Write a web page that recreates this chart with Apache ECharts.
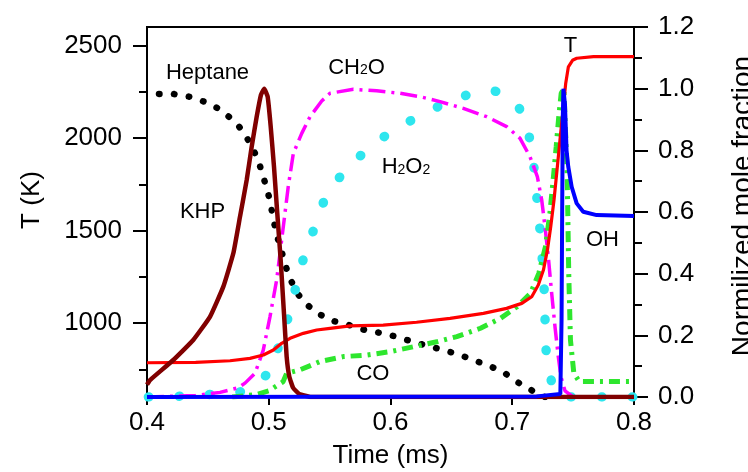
<!DOCTYPE html>
<html>
<head>
<meta charset="utf-8">
<script src="https://cdn.jsdelivr.net/npm/echarts@6/dist/echarts.min.js"></script>
<style>
html,body{margin:0;padding:0;background:#ffffff;}
#chart{width:748px;height:472px;}
</style>
</head>
<body>
<div id="chart"></div>
<script>
// ---- data (time in ms) ----
const xTicks = [0.4, 0.5, 0.6, 0.7, 0.8];
const tMajorTicks = [1000, 1500, 2000, 2500];
const tMinorTicks = [750, 1250, 1750, 2250];

const heptaneTime = [0.4, 0.4099, 0.4214, 0.4361, 0.449, 0.4595, 0.4682, 0.4753, 0.4819, 0.4879, 0.4928, 0.4969, 0.5005, 0.5032, 0.506, 0.5101, 0.5133, 0.5175, 0.5234, 0.5317, 0.5429, 0.5525, 0.5662, 0.5793, 0.5928, 0.6045, 0.616, 0.631, 0.6439, 0.6565, 0.6694, 0.6839, 0.694, 0.7039, 0.7142, 0.72, 0.727];
const heptaneFrac = [0.985, 0.983, 0.983, 0.973, 0.955, 0.934, 0.906, 0.879, 0.842, 0.798, 0.749, 0.696, 0.645, 0.59, 0.533, 0.479, 0.431, 0.384, 0.336, 0.298, 0.266, 0.247, 0.233, 0.217, 0.207, 0.196, 0.182, 0.165, 0.152, 0.137, 0.118, 0.096, 0.077, 0.049, 0.026, 0.012, 0];

const khpTime = [0.4, 0.4025, 0.4216, 0.438, 0.4517, 0.4627, 0.4709, 0.4764, 0.4819, 0.486, 0.4901, 0.4936, 0.4963, 0.4991, 0.5016, 0.5043, 0.507, 0.5098, 0.5125, 0.5147, 0.5169, 0.52, 0.525, 0.535, 0.8];
const khpFrac = [0.04, 0.055, 0.12, 0.185, 0.26, 0.358, 0.466, 0.585, 0.704, 0.812, 0.909, 0.98, 1.0, 0.974, 0.877, 0.747, 0.596, 0.444, 0.271, 0.131, 0.066, 0.03, 0.01, 0, 0];

const ch2oTime = [0.4, 0.44, 0.46, 0.475, 0.4805, 0.4887, 0.4955, 0.501, 0.5065, 0.5106, 0.516, 0.5202, 0.5271, 0.5339, 0.5435, 0.5503, 0.5695, 0.5887, 0.6078, 0.6242, 0.6407, 0.6598, 0.679, 0.6954, 0.7064, 0.7146, 0.7206, 0.7242, 0.7269, 0.7296, 0.7324, 0.7351, 0.7378, 0.74, 0.7433, 0.75, 0.8];
const ch2oFrac = [0, 0.005, 0.015, 0.03, 0.045, 0.077, 0.152, 0.26, 0.38, 0.509, 0.682, 0.79, 0.855, 0.909, 0.96, 0.985, 0.998, 0.993, 0.985, 0.974, 0.958, 0.936, 0.909, 0.877, 0.839, 0.779, 0.715, 0.639, 0.552, 0.455, 0.336, 0.228, 0.131, 0.066, 0.02, 0, 0];

const h2o2Time = [0.4, 0.428, 0.457, 0.48, 0.5005, 0.5092, 0.5175, 0.523, 0.5298, 0.5386, 0.5484, 0.5681, 0.5881, 0.6086, 0.6305, 0.6529, 0.6817, 0.7028, 0.7124, 0.7173, 0.7195, 0.7212, 0.7239, 0.7261, 0.7269, 0.7283, 0.7339, 0.74, 0.8];
const h2o2Frac = [0, 0.003, 0.01, 0.02, 0.082, 0.179, 0.277, 0.369, 0.466, 0.56, 0.663, 0.756, 0.826, 0.879, 0.925, 0.967, 0.996, 0.955, 0.872, 0.763, 0.671, 0.612, 0.488, 0.358, 0.255, 0.126, 0.028, 0, 0];

const coTime = [0.47, 0.49, 0.5, 0.5117, 0.5147, 0.5257, 0.5421, 0.5612, 0.5805, 0.5997, 0.6189, 0.6381, 0.6545, 0.6739, 0.6903, 0.704, 0.715, 0.7218, 0.7273, 0.7309, 0.7336, 0.7361, 0.7382, 0.7402, 0.7424, 0.7451, 0.7464, 0.7478, 0.7506, 0.755, 0.8];
const coFrac = [0, 0.008, 0.02, 0.049, 0.077, 0.088, 0.115, 0.131, 0.136, 0.147, 0.163, 0.179, 0.196, 0.223, 0.255, 0.293, 0.336, 0.401, 0.488, 0.596, 0.704, 0.812, 0.909, 0.985, 1.0, 0.725, 0.401, 0.185, 0.077, 0.05, 0.05];

const tempTime = [0.4, 0.44, 0.4682, 0.4846, 0.4956, 0.5038, 0.5106, 0.5175, 0.5284, 0.5394, 0.5503, 0.5667, 0.594, 0.6214, 0.6489, 0.6763, 0.6954, 0.7078, 0.716, 0.7214, 0.7256, 0.7289, 0.7316, 0.7343, 0.7365, 0.7392, 0.742, 0.7439, 0.7461, 0.7495, 0.753, 0.7667, 0.8];
const tempK = [785, 787, 796, 809, 827, 854, 890, 917, 944, 962, 971, 984, 989, 1004, 1025, 1052, 1079, 1106, 1142, 1205, 1286, 1395, 1520, 1665, 1809, 1989, 2169, 2295, 2385, 2420, 2431, 2440, 2440];

const ohTime = [0.4, 0.72, 0.7395, 0.7405, 0.741, 0.7415, 0.742, 0.7433, 0.7446, 0.746, 0.7488, 0.7529, 0.7583, 0.7693, 0.8];
const ohFrac = [0, 0.002, 0.01, 0.25, 0.6, 0.9, 1.0, 0.95, 0.8, 0.747, 0.682, 0.628, 0.601, 0.59, 0.587];

// in-plot annotation labels (data coordinates on time / fraction axes)
const labelNames = ['Heptane', 'KHP', 'CH2O', 'H2O2', 'CO', 'T', 'OH'];
const labelTime = [0.4497, 0.4456, 0.5721, 0.6127, 0.5856, 0.7478, 0.7741];
const labelFrac = [1.054, 0.603, 1.072, 0.749, 0.078, 1.142, 0.514];

// ---- build ----
function zip(a, b) { return a.map((v, i) => [v, b[i]]); }
const FONT = '"Liberation Sans", Arial, sans-serif';
const richText = {
  'CH2O': '{n|CH}{s|2}{n|O}',
  'H2O2': '{n|H}{s|2}{n|O}{s|2}'
};

const chart = echarts.init(document.getElementById('chart'), null, { renderer: 'canvas' });

const axisLineStyle = { color: '#000', width: 2 };

const option = {
  animation: false,
  backgroundColor: '#ffffff',
  textStyle: { fontFamily: FONT },
  grid: {
    left: 147, right: 114, top: 27, bottom: 75,
    show: true, borderColor: '#000', borderWidth: 2, backgroundColor: 'transparent',
    containLabel: false, outerBoundsMode: 'none'
  },
  xAxis: [{
    type: 'value', min: 0.4, max: 0.8, interval: 0.1,
    name: 'Time (ms)', nameLocation: 'middle', nameGap: 46,
    nameTextStyle: { fontSize: 26, color: '#000', fontFamily: FONT },
    axisLine: { show: true, onZero: false, lineStyle: axisLineStyle },
    axisTick: { show: true, length: 8, inside: false, lineStyle: axisLineStyle },
    axisLabel: { show: true, fontSize: 26, color: '#000', margin: 13, fontFamily: FONT,
      showMinLabel: true, showMaxLabel: true, hideOverlap: false,
      formatter: v => v.toFixed(1) },
    splitLine: { show: false }
  }],
  yAxis: [{
    type: 'value', position: 'left', min: 600, max: 2600,
    name: 'T (K)', nameLocation: 'middle', nameGap: 102,
    nameTextStyle: { fontSize: 26, color: '#000', fontFamily: FONT, padding: [0, 0, 0, 24] },
    axisLine: { show: true, onZero: false, lineStyle: axisLineStyle },
    axisTick: { show: true, length: 14, inside: false, customValues: tMajorTicks, lineStyle: axisLineStyle },
    axisLabel: { show: true, fontSize: 26, color: '#000', margin: 25, fontFamily: FONT,
      customValues: tMajorTicks, hideOverlap: false, formatter: v => String(v) },
    splitLine: { show: false }
  }, {
    type: 'value', position: 'left', min: 600, max: 2600,
    axisLine: { show: false },
    axisTick: { show: true, length: 8, inside: false, customValues: tMinorTicks, lineStyle: axisLineStyle },
    axisLabel: { show: false },
    splitLine: { show: false }
  }, {
    type: 'value', position: 'right', min: 0, max: 1.2, interval: 0.2,
    name: 'Normilized mole fraction', nameLocation: 'middle', nameGap: 95,
    nameTextStyle: { fontSize: 28, color: '#000', fontFamily: FONT, padding: [0, 0, 0, 12] },
    axisLine: { show: true, onZero: false, lineStyle: axisLineStyle },
    axisTick: { show: true, length: 14, inside: false, lineStyle: axisLineStyle },
    minorTick: { show: true, splitNumber: 2, length: 8, lineStyle: axisLineStyle },
    axisLabel: { show: true, fontSize: 26, color: '#000', margin: 24, fontFamily: FONT,
      showMinLabel: true, showMaxLabel: true, hideOverlap: false,
      formatter: v => v.toFixed(1) },
    splitLine: { show: false },
    minorSplitLine: { show: false }
  }],
  series: [
    {
      name: 'Heptane', type: 'line', yAxisIndex: 2, data: zip(heptaneTime, heptaneFrac),
      showSymbol: false, symbol: 'none', silent: true,
      lineStyle: { color: '#000000', width: 6.5, type: [0.5, 14.5], cap: 'round', dashOffset: 3 }
    },
    {
      name: 'H2O2', type: 'line', yAxisIndex: 2, data: zip(h2o2Time, h2o2Frac),
      showSymbol: false, symbol: 'none', silent: true, smooth: 0.2,
      lineStyle: { color: '#2ee6ee', width: 9.5, type: [0.5, 30], cap: 'round', dashOffset: 29 }
    },
    {
      name: 'CH2O', type: 'line', yAxisIndex: 2, data: zip(ch2oTime, ch2oFrac),
      showSymbol: false, symbol: 'none', silent: true,
      lineStyle: { color: '#ff00ff', width: 3.5, type: [17, 6, 3, 6] }
    },
    {
      name: 'CO', type: 'line', yAxisIndex: 2, data: zip(coTime, coFrac),
      showSymbol: false, symbol: 'none', silent: true,
      lineStyle: { color: '#2ee62e', width: 5, type: [11, 6, 3, 6] }
    },
    {
      name: 'T', type: 'line', yAxisIndex: 0, data: zip(tempTime, tempK),
      showSymbol: false, symbol: 'none', silent: true,
      lineStyle: { color: '#ff0000', width: 3.2 }
    },
    {
      name: 'KHP', type: 'line', yAxisIndex: 2, data: zip(khpTime, khpFrac),
      showSymbol: false, symbol: 'none', silent: true, smooth: 0.12,
      lineStyle: { color: '#800000', width: 4.5 }
    },
    {
      name: 'OH', type: 'line', yAxisIndex: 2, data: zip(ohTime, ohFrac),
      showSymbol: false, symbol: 'none', silent: true,
      lineStyle: { color: '#0000ff', width: 4 }
    },
    {
      name: 'labels', type: 'scatter', yAxisIndex: 2, z: 20, silent: true,
      symbolSize: 0, itemStyle: { color: '#000000', opacity: 1 },
      data: labelNames.map((n, i) => ({ name: n, value: [labelTime[i], labelFrac[i]] })),
      label: {
        show: true, position: 'inside', color: '#000000', opacity: 1, fontSize: 22, fontFamily: FONT,
        textBorderWidth: 0,
        formatter: p => richText[p.name] || ('{n|' + p.name + '}'),
        rich: {
          n: { fontSize: 22, color: '#000000', fontFamily: FONT, lineHeight: 24, verticalAlign: 'bottom', textBorderWidth: 0 },
          s: { fontSize: 14, color: '#000000', fontFamily: FONT, lineHeight: 16, verticalAlign: 'bottom', padding: [0, 0, 1, 0], textBorderWidth: 0 }
        }
      }
    }
  ]
};
chart.setOption(option);
</script>
</body>
</html>
